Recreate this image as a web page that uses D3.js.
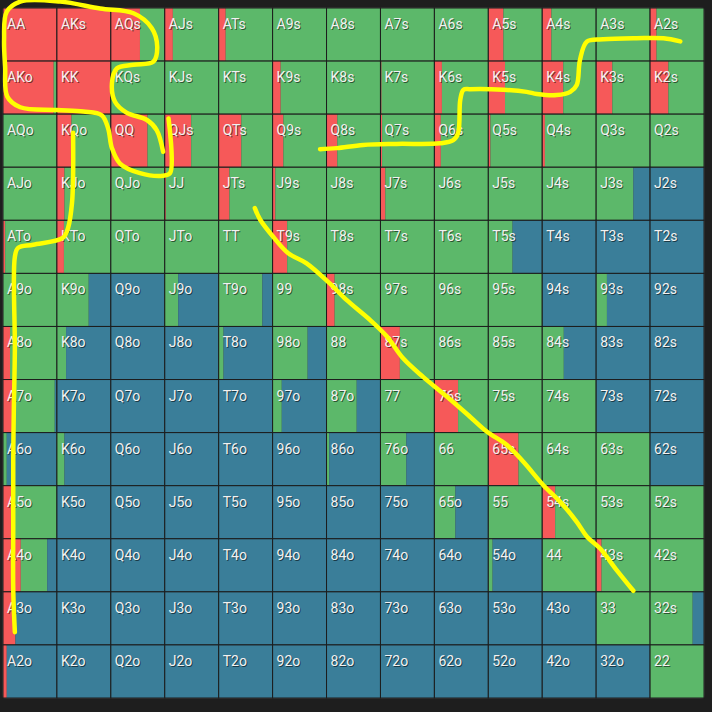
<!DOCTYPE html>
<html>
<head>
<meta charset="utf-8">
<script src="https://cdnjs.cloudflare.com/ajax/libs/d3/7.8.5/d3.min.js"></script>
<style>
  html, body { margin: 0; padding: 0; background: #1e1e1e; }
  .handText { font-family: "Roboto", sans-serif; font-size: 14px; }
</style>
</head>
<body>
<div id="chart"></div>
<script>
// Hand ranks, in grid order
var ranks = ["A", "K", "Q", "J", "T", "9", "8", "7", "6", "5", "4", "3", "2"];

// Raise frequency per cell (row, col)
var raiseFreq = [
  [1, 1, 0.54, 0.15, 0.13, 0, 0, 0, 0, 0.28, 0.17, 0, 0.12],
  [0.94, 1, 0, 0, 0, 0.15, 0, 0.02, 0.14, 0.31, 0.39, 0.30, 0.34],
  [0, 0.27, 0.68, 0.49, 0.42, 0.20, 0.20, 0.03, 0.12, 0.04, 0.05, 0, 0],
  [0, 0.14, 0.01, 0.02, 0.20, 0.05, 0, 0.09, 0, 0, 0, 0, 0],
  [0.04, 0.13, 0, 0, 0, 0.27, 0, 0, 0, 0, 0, 0, 0],
  [0, 0, 0, 0, 0, 0, 0.15, 0, 0, 0, 0, 0, 0],
  [0.13, 0, 0, 0, 0, 0, 0, 0.36, 0, 0, 0, 0, 0],
  [0.19, 0, 0, 0, 0, 0, 0, 0, 0.44, 0, 0, 0, 0],
  [0, 0, 0, 0, 0, 0, 0, 0, 0, 0.56, 0, 0, 0],
  [0.18, 0, 0, 0, 0, 0, 0, 0, 0, 0, 0.24, 0, 0],
  [0.33, 0, 0, 0, 0, 0, 0, 0, 0, 0, 0, 0.10, 0],
  [0.23, 0, 0, 0, 0, 0, 0, 0, 0, 0, 0, 0, 0],
  [0.07, 0, 0, 0, 0, 0, 0, 0, 0, 0, 0, 0, 0]
];

// Call frequency per cell (fold is whatever is left)
var callFreq = [
  [0, 0, 0.46, 0.85, 0.87, 1, 1, 1, 1, 0.72, 0.83, 1, 0.88],
  [0.06, 0, 1, 1, 1, 0.85, 1, 0.98, 0.86, 0.69, 0.61, 0.70, 0.66],
  [1, 0.73, 0.32, 0.51, 0.58, 0.80, 0.80, 0.97, 0.88, 0.96, 0.95, 1, 1],
  [1, 0.86, 0.99, 0.98, 0.80, 0.95, 1, 0.91, 1, 1, 1, 0.69, 0],
  [0.96, 0.87, 1, 1, 1, 0.73, 1, 1, 1, 0.45, 0, 0, 0],
  [1, 0.59, 0, 0.25, 0.81, 1, 0.85, 1, 1, 1, 0, 0.20, 0],
  [0.87, 0.17, 0, 0, 0.09, 0.65, 1, 0.64, 1, 1, 0.40, 0, 0],
  [0.77, 0, 0, 0, 0, 0.17, 0.56, 1, 0.56, 1, 1, 0, 0],
  [0.07, 0.14, 0, 0, 0, 0, 0.05, 0.48, 1, 0.44, 1, 1, 0],
  [0.82, 0, 0, 0, 0, 0, 0, 0, 0.39, 1, 0.76, 1, 1],
  [0.49, 0, 0, 0, 0, 0, 0, 0, 0, 0.08, 1, 0.90, 1],
  [0, 0, 0, 0, 0, 0, 0, 0, 0, 0, 0, 1, 0.79],
  [0, 0, 0, 0, 0, 0, 0, 0, 0, 0, 0, 0, 1]
];

// Freehand yellow strokes drawn over the grid, in cell units [col, row]
var strokes = [
  [[2.97, 2.71], [2.85, 2.30], [2.67, 2.11], [2.29, 1.97], [2.08, 1.77], [2.02, 1.42], [2.11, 1.14],
   [2.42, 1.07], [2.79, 1.01], [2.86, 0.73], [2.76, 0.38], [2.42, 0.10], [1.80, 0.01], [1.06, -0.12],
   [0.32, -0.12], [0.07, 0.07], [0.02, 0.60], [0.04, 1.11], [0.08, 1.67], [0.32, 1.87], [1.00, 1.92],
   [1.49, 1.95], [1.83, 2.02], [1.95, 2.27], [2.02, 2.64], [2.17, 2.93], [2.54, 3.11], [2.97, 3.16],
   [3.10, 3.11], [3.07, 2.08]],
  [[1.30, 2.35], [1.30, 3.15], [1.28, 3.67], [1.21, 4.13], [1.11, 4.33], [0.56, 4.46], [0.28, 4.52],
   [0.22, 4.69], [0.22, 6.44], [0.20, 7.61], [0.19, 8.52], [0.19, 9.74], [0.19, 10.96], [0.22, 11.76]],
  [[5.88, 2.66], [6.19, 2.64], [6.68, 2.58], [7.30, 2.56], [8.10, 2.55], [8.35, 2.49], [8.44, 2.36],
   [8.48, 1.73], [8.54, 1.54], [8.66, 1.53], [9.28, 1.54], [9.71, 1.58], [9.90, 1.62], [10.27, 1.64],
   [10.52, 1.58], [10.64, 1.45], [10.70, 0.98], [10.83, 0.63], [11.13, 0.59], [11.75, 0.57],
   [12.25, 0.57], [12.56, 0.63]],
  [[4.67, 3.77], [4.77, 3.99], [5.01, 4.31], [5.29, 4.62], [5.63, 4.81], [6.06, 5.19], [6.37, 5.50],
   [6.81, 5.88], [7.12, 6.19], [7.42, 6.60], [7.79, 6.95], [8.23, 7.32], [8.66, 7.70], [8.97, 7.98],
   [9.34, 8.23], [9.65, 8.55], [10.02, 8.99], [10.33, 9.30], [10.64, 9.68], [10.83, 9.96],
   [11.07, 10.18], [11.38, 10.59], [11.69, 10.98]]
];

var colors = { raise: "#f65959", call: "#5cb86a", fold: "#3a7e99" };

// SVG area and grid placement
var svg_Width = 712;
var svg_Height = 712;
var grid = { left: 3, top: 8, right: 704, bottom: 698 };

var svg = d3.select("#chart")
  .append("svg")
  .attr("width", svg_Width)
  .attr("height", svg_Height);

svg.append("rect")
  .attr("width", svg_Width)
  .attr("height", svg_Height)
  .attr("fill", "#1e1e1e");

// Scales: columns/rows in cell units, and a 0..1 scale inside a cell
var x = d3.scaleLinear().domain([0, 13]).range([grid.left, grid.right]);
var y = d3.scaleLinear().domain([0, 13]).range([grid.top, grid.bottom]);
var cellW = x(1) - x(0);
var cellH = y(1) - y(0);
var frac = d3.scaleLinear().domain([0, 1]).range([0, cellW]);

// panel behind the cells
svg.append("rect")
  .attr("x", grid.left - 1)
  .attr("y", grid.top - 1)
  .attr("width", grid.right - grid.left + 2)
  .attr("height", grid.bottom - grid.top + 2)
  .attr("rx", 4)
  .attr("fill", "#3a3a3a");

// build one record per hand
var cells = [];
ranks.forEach(function(r1, row) {
  ranks.forEach(function(r2, col) {
    var name;
    if (row === col) name = r1 + r2;
    else if (col > row) name = r1 + r2 + "s";
    else name = r2 + r1 + "o";
    var raise = raiseFreq[row][col];
    var call = callFreq[row][col];
    cells.push({ row: row, col: col, name: name, raise: raise, call: call, fold: Math.max(0, 1 - raise - call) });
  });
});

var cell_Group = svg.selectAll(".cell")
  .data(cells)
  .enter()
  .append("g")
  .attr("class", "cell")
  .attr("transform", d => `translate(${x(d.col)}, ${y(d.row)})`);

// stacked segments: raise, call, fold from left to right
cell_Group.each(function(d) {
  var g = d3.select(this);
  var segs = [
    { start: 0, size: d.raise, color: colors.raise },
    { start: d.raise, size: d.call, color: colors.call },
    { start: d.raise + d.call, size: d.fold, color: colors.fold }
  ];
  g.selectAll("rect.seg")
    .data(segs.filter(s => s.size > 0))
    .enter()
    .append("rect")
    .attr("class", "seg")
    .attr("x", s => frac(s.start))
    .attr("y", 0)
    .attr("width", s => frac(s.size))
    .attr("height", cellH)
    .attr("fill", s => s.color);
});

// cell borders
cell_Group.append("rect")
  .attr("width", cellW)
  .attr("height", cellH)
  .attr("fill", "none")
  .attr("stroke", "#1c1c1c")
  .attr("stroke-width", 1);

// labels with a small dark shadow
cell_Group.append("text")
  .attr("class", "handText")
  .attr("x", 5)
  .attr("y", 22)
  .attr("fill", "rgba(0,0,0,0.55)")
  .text(d => d.name);

cell_Group.append("text")
  .attr("class", "handText")
  .attr("x", 4)
  .attr("y", 21)
  .attr("fill", "#f2f2f2")
  .text(d => d.name);

// yellow annotation strokes
var line = d3.line()
  .x(p => x(p[0]))
  .y(p => y(p[1]))
  .curve(d3.curveCatmullRom);

svg.selectAll(".stroke")
  .data(strokes)
  .enter()
  .append("path")
  .attr("class", "stroke")
  .attr("d", line)
  .attr("fill", "none")
  .attr("stroke", "#ffff00")
  .attr("stroke-width", 4.5)
  .attr("stroke-linecap", "round")
  .attr("stroke-linejoin", "round");
</script>
</body>
</html>
